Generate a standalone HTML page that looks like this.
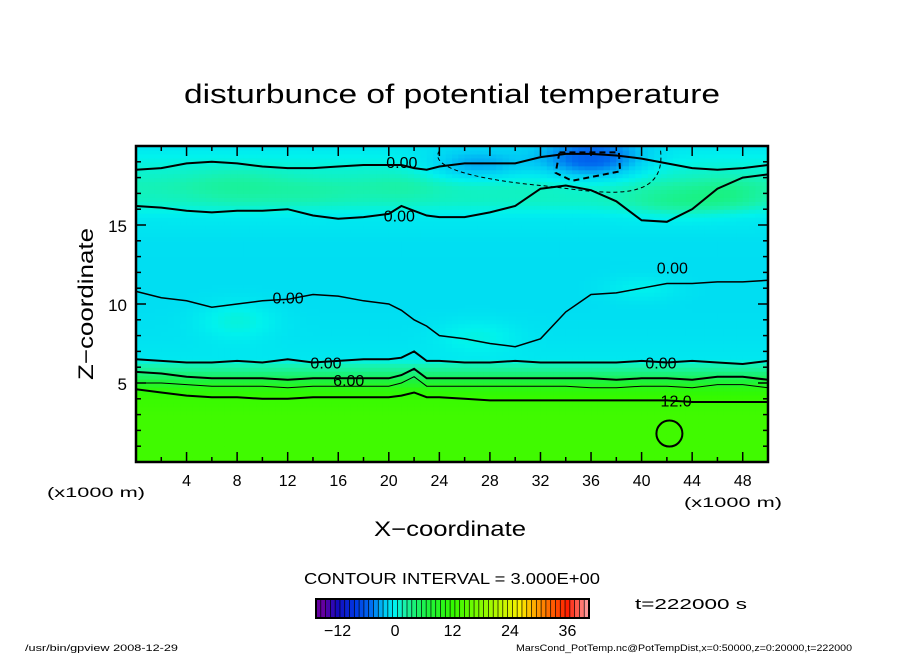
<!DOCTYPE html>
<html><head><meta charset="utf-8"><style>
html,body{margin:0;padding:0;background:#fff;width:904px;height:654px;overflow:hidden}
svg{display:block}
text{font-family:"Liberation Sans",sans-serif;fill:#000}
</style></head><body>
<svg id="chart" width="904" height="654" viewBox="0 0 904 654">
<g id="field"></g>
<g id="contours" fill="none" stroke="#000"></g>
<g id="axes"></g>
<text x="452" y="103" font-size="27" text-anchor="middle" textLength="536" lengthAdjust="spacingAndGlyphs" style="font-weight:normal">disturbunce of potential temperature</text>
<text x="450" y="536" font-size="21" text-anchor="middle" textLength="152" lengthAdjust="spacingAndGlyphs">X−coordinate</text>
<text transform="translate(93,304) rotate(-90)" font-size="21" text-anchor="middle" textLength="152" lengthAdjust="spacingAndGlyphs">Z−coordinate</text>
<text x="47" y="497" font-size="14" textLength="98" lengthAdjust="spacingAndGlyphs">(x1000 m)</text>
<text x="684" y="507" font-size="14" textLength="98" lengthAdjust="spacingAndGlyphs">(x1000 m)</text>
<text x="452" y="584" font-size="16" text-anchor="middle" textLength="296" lengthAdjust="spacingAndGlyphs">CONTOUR INTERVAL = 3.000E+00</text>
<text x="635" y="609" font-size="15" textLength="112" lengthAdjust="spacingAndGlyphs">t=222000 s</text>
<g id="cbar"></g>
<text x="25" y="651" font-size="9" textLength="153" lengthAdjust="spacingAndGlyphs">/usr/bin/gpview  2008-12-29</text>
<text x="516" y="651" font-size="9" textLength="336" lengthAdjust="spacingAndGlyphs">MarsCond_PotTemp.nc@PotTempDist,x=0:50000,z=0:20000,t=222000</text>
</svg>
<script>
// ---- data ----
const xTicks=[4,8,12,16,20,24,28,32,36,40,44,48];
const zTicks=[5,10,15];
const cbarTicks=[-12,0,12,24,36];
// mean profile of theta' vs z (km)
const profZ=[0,1,2,3,4,4.6,5.0,5.4,5.8,6.2,6.6,8,10,12,14,15.5,16.5,17.5,18.5,20];
const profV=[13,13,13,13,12.5,11,8,5,3,1.5,-0.6,-0.9,-1.1,-1.1,-1.0,-0.5,1.2,1.6,0.8,-0.6];
// anomaly blobs: x, z, sx, sz, amplitude
const blobX=[36,27,21,8,43,47,8,27,40,14];
const blobZ=[19.2,18.8,17.5,17.5,16.5,17,9,8,11,17];
const blobSX=[4,4,3,4,4,3,3,3,3,4];
const blobSZ=[1.3,1,1,1.2,1,1,1.2,1,0.8,0.8];
const blobA=[-6,-3.5,0.6,1.0,1.8,1.5,1.5,1.2,1.0,0.6];
// contour lines (z values sampled at contourX)
const contourX=[0,2,4,6,8,10,12,14,16,18,20,21,22,23,24,26,28,30,32,34,36,38,40,42,44,46,48,50];
const c0Low=[6.5,6.4,6.3,6.3,6.4,6.3,6.5,6.3,6.4,6.5,6.5,6.6,7.0,6.4,6.4,6.3,6.3,6.4,6.3,6.3,6.3,6.3,6.4,6.3,6.4,6.3,6.2,6.4];
const c6=[5.7,5.6,5.4,5.3,5.3,5.3,5.2,5.3,5.3,5.3,5.3,5.5,5.9,5.3,5.3,5.3,5.3,5.3,5.3,5.3,5.3,5.2,5.3,5.3,5.2,5.4,5.4,5.2];
const c9=[5.0,5.0,4.9,4.8,4.8,4.8,4.7,4.8,4.8,4.8,4.8,5.0,5.4,4.8,4.8,4.8,4.8,4.8,4.8,4.8,4.7,4.7,4.8,4.8,4.7,4.9,4.9,4.7];
const c12=[4.6,4.4,4.2,4.1,4.1,4.0,4.0,4.1,4.1,4.1,4.1,4.2,4.4,4.1,4.1,4.0,3.9,3.9,3.9,3.9,3.9,3.9,3.9,3.9,3.8,3.8,3.8,3.8];
const c0Top=[16.2,16.1,15.9,15.8,15.9,15.9,16.0,15.6,15.4,15.5,15.7,16.2,15.9,15.6,15.5,15.5,15.8,16.2,17.3,17.5,17.2,16.5,15.3,15.2,16.0,17.3,18.0,18.2];
const c0Top2=[18.5,18.6,18.9,19.0,18.9,18.7,18.6,18.6,18.7,18.8,18.8,18.8,18.6,18.5,18.7,18.9,18.9,18.9,19.3,19.5,19.5,19.4,19.2,18.9,18.6,18.5,18.6,18.8];
const c0Mid=[10.8,10.4,10.2,9.8,10.0,10.2,10.3,10.6,10.5,10.2,10.0,9.6,9.0,8.6,8.0,7.8,7.5,7.3,7.8,9.5,10.6,10.7,11.0,11.3,11.3,11.4,11.4,11.5];
// ---- scales ----
const X0=136,X1=768,Y0=146,Y1=462;
const sx=v=>X0+(X1-X0)*v/50, sz=v=>Y1-(Y1-Y0)*v/20;
const NS='http://www.w3.org/2000/svg';
function mk(t,a,p){const e=document.createElementNS(NS,t);for(const k in a)e.setAttribute(k,a[k]);p.appendChild(e);return e;}
const stops=[[-15,[100,0,160]],[-12,[20,10,190]],[-8,[0,60,230]],[-5,[0,110,240]],[-2,[0,205,245]],[0,[0,242,238]],[2,[25,242,170]],[4,[25,242,120]],[7,[30,242,60]],[12,[50,250,0]],[20,[160,250,0]],[26,[250,240,0]],[30,[255,150,0]],[36,[255,30,0]],[40,[255,150,150]]];
function col(v){if(v<=stops[0][0])return 'rgb('+stops[0][1]+')';for(let i=1;i<stops.length;i++){if(v<=stops[i][0]){const a=stops[i-1],b=stops[i],t=(v-a[0])/(b[0]-a[0]);return 'rgb('+a[1].map((c,j)=>Math.round(c+(b[1][j]-c)*t)).join(',')+')';}}return 'rgb('+stops[stops.length-1][1]+')';}
function prof(z){for(let i=1;i<profZ.length;i++)if(z<=profZ[i]){const t=(z-profZ[i-1])/(profZ[i]-profZ[i-1]);return profV[i-1]+(profV[i]-profV[i-1])*t;}return profV[profV.length-1];}
function field(x,z){let v=prof(z);for(let i=0;i<blobX.length;i++){const dx=(x-blobX[i])/blobSX[i],dz=(z-blobZ[i])/blobSZ[i];v+=blobA[i]*Math.exp(-(dx*dx+dz*dz));}return v;}
const F=document.getElementById('field');
const dx=0.5,dz=0.25;
for(let x=0;x<50;x+=dx)for(let z=0;z<20;z+=dz){
 const r=mk('rect',{x:sx(x).toFixed(2),y:sz(z+dz).toFixed(2),width:((X1-X0)*dx/50+0.6).toFixed(2),height:((Y1-Y0)*dz/20+0.6).toFixed(2),fill:col(field(x+dx/2,z+dz/2))},F);
 
 
}
const C=document.getElementById('contours');
function line(arr,w,name,dash){const d=arr.map((z,i)=>(i?'L':'M')+sx(contourX[i]).toFixed(1)+','+sz(z).toFixed(1)).join('');const p=mk('path',{d:d,'stroke-width':w},C);if(dash)p.setAttribute('stroke-dasharray',dash);
 
 }
line(c0Low,2,'contour-0-low');line(c6,2,'contour-6');line(c9,1,'contour-9');line(c12,2,'contour-12');
line(c0Top,2,'contour-0-top');line(c0Top2,2,'contour-0-top2');line(c0Mid,1.5,'contour-0-mid');
const dp=mk('path',{d:'M'+sx(33.5)+','+sz(19.6)+'L'+sx(38.2)+','+sz(19.6)+'L'+sx(38.3)+','+sz(18.4)+'L'+sx(34.5)+','+sz(17.8)+'L'+sx(33.2)+','+sz(18.3)+'Z','stroke-width':2,'stroke-dasharray':'6,4'},C);


const dp2=mk('path',{d:'M'+sx(24)+','+sz(19.7)+'C'+sx(23)+','+sz(18.5)+' '+sx(28)+','+sz(17.8)+' '+sx(32)+','+sz(17.5)+'S'+sx(42)+','+sz(16)+' '+sx(41.5)+','+sz(19.7),'stroke-width':1,'stroke-dasharray':'4,3'},C);


const circ=mk('circle',{cx:sx(42.2),cy:sz(1.8),r:13,'stroke-width':2},C);


const labels=[['0.00',19.8,19.0],['0.00',19.6,15.6],['0.00',10.8,10.4],['0.00',13.8,6.3],['6.00',15.6,5.2],['12.0',41.5,3.9],['0.00',40.3,6.3],['0.00',41.2,12.3]];
labels.forEach(l=>{const t=mk('text',{x:sx(l[1]),y:sz(l[2])+6,'font-size':16,stroke:'none',fill:'#000'},C);t.textContent=l[0];
 
 });
const A=document.getElementById('axes');
mk('rect',{x:X0,y:Y0,width:X1-X0,height:Y1-Y0,fill:'none',stroke:'#000','stroke-width':2.5},A);
for(let v=2;v<50;v+=2){const L=v%4===0?10:5;mk('line',{x1:sx(v),x2:sx(v),y1:Y1,y2:Y1-L,stroke:'#000','stroke-width':1.5},A);mk('line',{x1:sx(v),x2:sx(v),y1:Y0,y2:Y0+L,stroke:'#000','stroke-width':1.5},A);}
for(let v=1;v<20;v++){const L=v%5===0?10:5;mk('line',{x1:X0,x2:X0+L,y1:sz(v),y2:sz(v),stroke:'#000','stroke-width':1.5},A);mk('line',{x1:X1,x2:X1-L,y1:sz(v),y2:sz(v),stroke:'#000','stroke-width':1.5},A);}
xTicks.forEach(v=>{const t=mk('text',{x:sx(v),y:486,'font-size':16,'text-anchor':'middle'},A);t.textContent=v;
 
 });
zTicks.forEach(v=>{const t=mk('text',{x:127,y:sz(v)+7,'font-size':17,'text-anchor':'end'},A);t.textContent=v;
 
 });
const B=document.getElementById('cbar');
const CB0=316,CB1=589,vmin=-16.5,vmax=40.5;
const cx=v=>CB0+(CB1-CB0)*(v-vmin)/(vmax-vmin);
for(let v=vmin;v<vmax;v+=1){mk('rect',{x:cx(v),y:599,width:(CB1-CB0)/(vmax-vmin)+0.3,height:19,fill:col(v+0.5)},B);mk('line',{x1:cx(v),x2:cx(v),y1:599,y2:618,stroke:'#000','stroke-width':0.7},B);}
mk('rect',{x:CB0,y:599,width:CB1-CB0,height:19,fill:'none',stroke:'#000','stroke-width':2},B);
cbarTicks.forEach(v=>{const t=mk('text',{x:cx(v),y:636,'font-size':16,'text-anchor':'middle'},B);t.textContent=v<0?'−'+(-v):v;
 
 });
</script>
</body></html>
